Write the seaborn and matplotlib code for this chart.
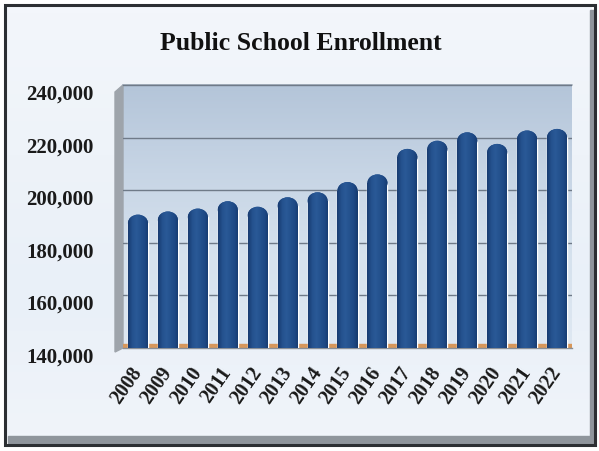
import numpy as np
import matplotlib
matplotlib.use("Agg")
import matplotlib.pyplot as plt
import seaborn as sns
from matplotlib.patches import Rectangle, Ellipse, Polygon
from matplotlib.colors import LinearSegmentedColormap
from matplotlib.ticker import FuncFormatter, FixedLocator
from matplotlib.transforms import ScaledTranslation

# Enrollment by school year
years = ["2008", "2009", "2010", "2011", "2012", "2013", "2014", "2015",
         "2016", "2017", "2018", "2019", "2020", "2021", "2022"]
enrollment = [190700, 191900, 193000, 195800, 193700, 197300, 199200, 203100,
              206000, 215700, 218800, 222000, 217600, 222700, 223300]
y_ticks = [140000, 160000, 180000, 200000, 220000, 240000]
title = "Public School Enrollment"

sns.set_theme(style="white")
plt.rcParams["font.family"] = ["Liberation Serif", "DejaVu Serif"]

W, H = 599, 451
fig = plt.figure(figsize=(W / 100, H / 100), dpi=100)
fig.patch.set_facecolor("white")

# Pixel-space backdrop: frame, panel shading, back wall, side wall
bg = fig.add_axes([0, 0, 1, 1], zorder=-10)
bg.set_xlim(0, W)
bg.set_ylim(H, 0)
bg.axis("off")

panel = np.linspace(0, 1, 64).reshape(-1, 1)
panel_cmap = LinearSegmentedColormap.from_list(
    "panel", ["#f3f6fb", "#eef3f9", "#e9f0f8", "#f0f4fa"])
bg.imshow(panel, cmap=panel_cmap, extent=(6, 592, 440, 6), aspect="auto", zorder=0)
# drop shadow on the right and bottom
bg.add_patch(Rectangle((590, 10), 5, 434, color="#8f959c", zorder=1))
bg.add_patch(Rectangle((8, 436), 587, 7, color="#8f959c", zorder=1))
bg.add_patch(Rectangle((5, 5), 590, 440, fill=False, edgecolor="#2c2f33", lw=2.2, zorder=3))

ax_l, ax_r, ax_t, ax_b = 123, 572, 85, 348
wall = np.linspace(0, 1, 128).reshape(-1, 1)
wall_cmap = LinearSegmentedColormap.from_list(
    "wall", ["#b4c5d9", "#c7d5e5", "#d6e2ee", "#dfe8f2"])
bg.imshow(wall, cmap=wall_cmap, extent=(ax_l, ax_r, ax_b, ax_t), aspect="auto", zorder=2)
bg.add_patch(Polygon([(115, 92), (ax_l, ax_t), (ax_l, ax_b), (115, 352)],
                     closed=True, color="#9ea4ab", zorder=2))
bg.plot([ax_l, ax_r], [ax_t, ax_t], color="#8e9aa9", lw=1.2, zorder=2)

ax = fig.add_axes([ax_l / W, 1 - ax_b / H, (ax_r - ax_l) / W, (ax_b - ax_t) / H])
ax.set_facecolor("none")

sns.barplot(x=years, y=enrollment, color="#214e8c", saturation=1, width=0.67,
            ax=ax, zorder=3)
ax.set_ylim(y_ticks[0], y_ticks[-1])
ax.set_xlim(-0.5, len(years) - 0.5)

# floor strip that shows between the columns
ax.axhspan(y_ticks[0], y_ticks[0] + 1700, color="#d8975a", zorder=2.5)

# cylinder look: rounded caps and a horizontal shading across every column
shade = LinearSegmentedColormap.from_list(
    "col", ["#183b70", "#24518e", "#2a5997", "#24528e", "#1e4985", "#163a6e"])
grad = np.linspace(0, 1, 64).reshape(1, -1)
px_per_unit = (ax_b - ax_t) / (y_ticks[-1] - y_ticks[0])
for p in list(ax.patches):
    if not isinstance(p, Rectangle) or p.get_height() < y_ticks[0]:
        continue
    x0, w, top = p.get_x(), p.get_width(), p.get_height()
    w_px = ax.transData.transform((x0 + w, 0))[0] - ax.transData.transform((x0, 0))[0]
    r = 0.85 * (w_px / 2) / px_per_unit
    p.set_height(top - r)
    cap = Ellipse((x0 + w / 2, top - r), w, 2 * r, facecolor=p.get_facecolor(),
                  edgecolor="none", zorder=3)
    ax.add_patch(cap)
    for clip in (p, cap):
        im = ax.imshow(grad, cmap=shade, extent=(x0, x0 + w, y_ticks[0], top),
                       aspect="auto", zorder=4)
        im.set_clip_path(clip.get_path(), clip.get_transform())
ax.set_ylim(y_ticks[0], y_ticks[-1])
ax.set_xlim(-0.5, len(years) - 0.5)
ax.set_aspect("auto")

ax.yaxis.set_major_locator(FixedLocator(y_ticks))
ax.yaxis.set_major_formatter(FuncFormatter(lambda v, _: f"{int(v):,}"))
ax.grid(axis="y", color="#6f7a88", lw=1.0, zorder=1)
ax.set_axisbelow(True)
for s in ("top", "right", "left"):
    ax.spines[s].set_visible(False)
ax.spines["bottom"].set_color("#8a8f96")
ax.spines["bottom"].set_linewidth(1)

ax.tick_params(axis="y", length=0, pad=21, labelsize=15)
for lbl in ax.get_yticklabels():
    lbl.set_fontweight("bold")
    lbl.set_color("#1a1a1a")
    lbl.set_transform(lbl.get_transform() + ScaledTranslation(0, -0.07, fig.dpi_scale_trans))

ax.set_xticks(range(len(years)))
ax.set_xticklabels(years, rotation=55, ha="right", va="center",
                   rotation_mode="anchor", fontweight="bold", fontsize=14.5, color="#1a1a1a")
ax.tick_params(axis="x", length=0, pad=15)
ax.set_xticks(np.arange(-0.5, len(years), 1.0), minor=True)
ax.tick_params(axis="x", which="minor", length=4, color="#8a8f96", width=1)
ax.set_xlabel("")
ax.set_ylabel("")

fig.text(0.503, 1 - 43 / H, title, ha="center", va="center",
         fontsize=18.5, fontweight="bold", color="#111111")

fig.savefig("out.png", dpi=100, facecolor=fig.get_facecolor())
